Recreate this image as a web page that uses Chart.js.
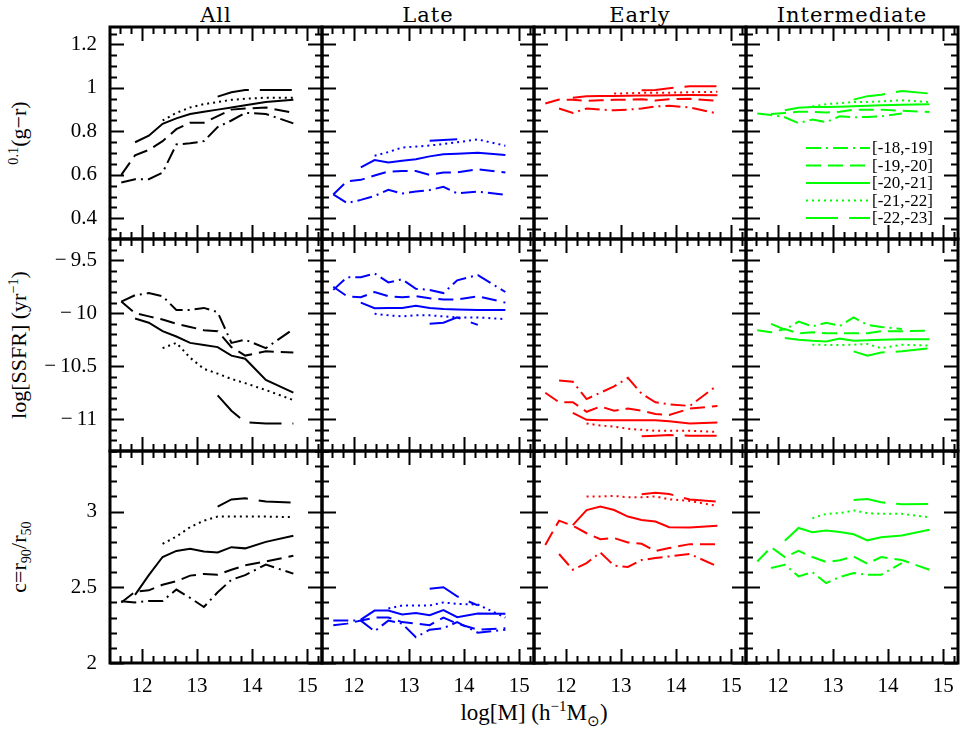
<!DOCTYPE html>
<html><head><meta charset="utf-8">
<script src="https://cdn.jsdelivr.net/npm/chart.js@4.4.1/dist/chart.umd.min.js"></script>
<style>
html,body{margin:0;padding:0;background:#fff;}
body{width:964px;height:732px;position:relative;overflow:hidden;}
canvas{position:absolute;}
.ct{position:absolute;top:3px;width:212px;text-align:center;font-family:"DejaVu Serif",serif;font-size:21px;line-height:24px;letter-spacing:1px;color:#000;white-space:nowrap;}
.yt{position:absolute;width:212px;height:26px;line-height:26px;text-align:center;font-family:"Liberation Serif",serif;font-size:22px;color:#000;white-space:nowrap;transform:rotate(-90deg);transform-origin:50% 50%;}
.xt{position:absolute;left:334px;width:400px;top:700px;line-height:26px;text-align:center;font-family:"Liberation Serif",serif;font-size:23px;color:#000;white-space:nowrap;}
sup,sub{font-size:65%;line-height:0;}
</style></head><body>
<div class="ct" style="left:110px">All</div>
<div class="ct" style="left:322px">Late</div>
<div class="ct" style="left:534px">Early</div>
<div class="ct" style="left:746px">Intermediate</div>
<div class="yt" style="left:-87px;top:120px"><sup>0.1</sup>(g−r)</div>
<div class="yt" style="left:-87px;top:332px">log[SSFR] (yr<sup>−1</sup>)</div>
<div class="yt" style="left:-87px;top:544px">c=r<sub>90</sub>/r<sub>50</sub></div>
<div class="xt">log[M] (h<sup>−1</sup>M<sub>⊙</sub>)</div>
<script>
// ---------- data ----------
const massBins = [11.625, 11.875, 12.125, 12.375, 12.625, 12.875, 13.125, 13.375, 13.625, 13.875, 14.25, 14.75];
const magBins = ['[-18,-19]', '[-19,-20]', '[-20,-21]', '[-21,-22]', '[-22,-23]'];
const massTicks = [12, 13, 14, 15];
const colorTicks = [0.4, 0.6, 0.8, 1, 1.2];
const ssfrTicks = [-11, -10.5, -10, -9.5];
const concTicks = [2, 2.5, 3];
const panelTitles = ['All', 'Late', 'Early', 'Intermediate'];
const _ = null;

// each panel: rows in magBins order
const colorAll = [
  [0.565, 0.58, 0.58, 0.61, 0.74, 0.745, 0.755, 0.82, 0.85, 0.885, 0.88, 0.837],
  [0.60, 0.69, 0.715, 0.755, 0.81, 0.84, 0.84, 0.87, 0.90, 0.905, 0.91, 0.885],
  [_, 0.75, 0.78, 0.835, 0.86, 0.88, 0.89, 0.90, 0.91, 0.92, 0.935, 0.945],
  [_, _, _, 0.85, 0.885, 0.91, 0.925, 0.935, 0.945, 0.95, 0.955, 0.955],
  [_, _, _, _, _, _, _, 0.96, 0.98, 0.99, 0.99, 0.99]];
const colorLate = [
  [0.51, 0.47, 0.485, 0.503, 0.531, 0.514, 0.523, 0.53, 0.545, 0.515, 0.523, 0.508],
  [0.51, 0.571, 0.577, 0.597, 0.615, 0.618, 0.618, 0.60, 0.611, 0.611, 0.626, 0.611],
  [_, _, 0.634, 0.668, 0.657, 0.665, 0.672, 0.685, 0.695, 0.697, 0.702, 0.691],
  [_, _, _, 0.688, 0.705, 0.726, 0.73, 0.735, 0.742, 0.75, 0.763, 0.734],
  [_, _, _, _, _, _, _, 0.757, 0.76, 0.764, _, _]];
const colorEarly = [
  [_, 0.905, 0.885, 0.905, 0.90, 0.897, 0.90, 0.905, 0.915, 0.918, 0.91, 0.882],
  [0.928, 0.946, 0.945, 0.94, 0.943, 0.945, 0.946, 0.948, 0.942, 0.948, 0.95, 0.94],
  [_, _, 0.955, 0.962, 0.963, 0.963, 0.964, 0.965, 0.965, 0.966, 0.967, 0.966],
  [_, _, _, _, _, 0.974, 0.975, 0.977, 0.978, 0.978, 0.98, 0.982],
  [_, _, _, _, _, _, _, 0.989, 0.99, 0.998, 1.008, 1.008]];
const colorInter = [
  [0.882, 0.875, 0.865, 0.838, 0.854, 0.843, 0.869, 0.865, 0.866, 0.869, 0.882, _],
  [_, 0.88, 0.885, 0.89, 0.89, 0.887, 0.89, 0.90, 0.90, 0.90, 0.895, 0.889],
  [_, _, 0.897, 0.909, 0.912, 0.912, 0.913, 0.915, 0.918, 0.92, 0.922, 0.925],
  [_, _, _, _, 0.915, 0.925, 0.93, 0.935, 0.935, 0.938, 0.943, 0.935],
  [_, _, _, _, _, _, _, 0.946, 0.962, 0.968, 0.986, 0.974]];

const ssfrAll = [
  [-9.89, -9.83, -9.81, -9.84, -9.97, -9.97, -9.95, -9.99, -10.28, -10.25, -10.33, -10.15],
  [-9.89, -10.0, -10.03, -10.06, -10.1, -10.13, -10.16, -10.17, -10.32, -10.4, -10.36, -10.37],
  [_, -10.05, -10.09, -10.17, -10.22, -10.28, -10.3, -10.32, -10.4, -10.43, -10.63, -10.75],
  [_, _, _, -10.33, -10.28, -10.42, -10.525, -10.57, -10.62, -10.66, -10.725, -10.82],
  [_, _, _, _, _, _, _, -10.775, -10.92, -11.03, -11.04, -11.04]];
const ssfrLate = [
  [-9.78, -9.66, -9.66, -9.625, -9.71, -9.68, -9.77, -9.78, -9.81, -9.69, -9.64, -9.8],
  [-9.75, -9.84, -9.85, -9.80, -9.84, -9.85, -9.84, -9.86, -9.87, -9.87, -9.84, -9.9],
  [_, _, -9.9, -9.953, -9.95, -9.95, -9.93, -9.95, -9.96, -9.965, -9.97, -9.97],
  [_, _, _, -10.006, -10.02, -10.03, -10.02, -10.02, -10.03, -10.04, -10.04, -10.056],
  [_, _, _, _, _, _, _, -10.1, -10.09, -10.04, -10.11, _]];
const ssfrEarly = [
  [_, -10.634, -10.647, -10.81, -10.75, -10.69, -10.61, -10.76, -10.84, -10.86, -10.875, -10.68],
  [-10.75, -10.84, -10.84, -10.93, -10.88, -10.92, -10.9, -10.92, -10.95, -10.96, -10.9, -10.875],
  [_, _, -10.94, -11.006, -11.01, -11.01, -11.01, -11.01, -11.01, -11.02, -11.04, -11.03],
  [_, _, _, -11.04, -11.06, -11.07, -11.09, -11.1, -11.11, -11.11, -11.11, -11.12],
  [_, _, _, _, _, _, _, -11.16, -11.155, -11.15, -11.156, -11.156]];
const ssfrInter = [
  [_, -10.1, -10.156, -10.08, -10.125, -10.09, -10.12, -10.04, -10.11, -10.13, -10.15, _],
  [-10.16, -10.18, -10.15, -10.19, -10.18, -10.19, -10.19, -10.19, -10.19, -10.17, -10.17, -10.166],
  [_, _, -10.234, -10.25, -10.26, -10.266, -10.24, -10.26, -10.255, -10.25, -10.245, -10.245],
  [_, _, _, _, -10.297, -10.3, -10.3, -10.297, -10.29, -10.33, -10.297, -10.306],
  [_, _, _, _, _, _, _, -10.36, -10.4, -10.37, -10.36, -10.33]];

const concAll = [
  [2.408, 2.40, 2.41, 2.41, 2.485, 2.43, 2.37, 2.467, 2.55, 2.58, 2.65, 2.59],
  [2.40, 2.47, 2.48, 2.517, 2.54, 2.577, 2.588, 2.583, 2.616, 2.645, 2.67, 2.708],
  [_, 2.45, 2.58, 2.70, 2.74, 2.755, 2.737, 2.73, 2.765, 2.757, 2.80, 2.84],
  [_, _, _, 2.787, 2.835, 2.897, 2.94, 2.967, 2.967, 2.967, 2.967, 2.963],
  [_, _, _, _, _, _, _, 3.033, 3.08, 3.088, 3.066, 3.059]];
const concLate = [
  [2.28, 2.28, 2.28, 2.21, 2.28, 2.26, 2.17, 2.22, 2.23, 2.27, 2.20, 2.22],
  [2.25, 2.26, 2.28, 2.30, 2.30, 2.27, 2.26, 2.25, 2.30, 2.26, 2.22, 2.23],
  [_, _, 2.287, 2.346, 2.346, 2.32, 2.33, 2.316, 2.35, 2.303, 2.327, 2.325],
  [_, _, _, _, 2.36, 2.38, 2.38, 2.38, 2.40, 2.39, 2.386, 2.30],
  [_, _, _, _, _, _, _, 2.49, 2.50, 2.44, 2.38, _]];
const concEarly = [
  [_, 2.72, 2.616, 2.66, 2.73, 2.643, 2.634, 2.68, 2.693, 2.704, 2.72, 2.638],
  [2.78, 2.94, 2.906, 2.857, 2.818, 2.825, 2.796, 2.787, 2.74, 2.759, 2.785, 2.785],
  [_, _, 2.91, 3.01, 3.033, 3.01, 2.967, 2.945, 2.934, 2.897, 2.895, 2.906],
  [_, _, _, 3.099, 3.10, 3.103, 3.095, 3.094, 3.10, 3.081, 3.07, 3.037],
  [_, _, _, _, _, _, _, 3.114, 3.125, 3.116, 3.08, 3.066]];
const concInter = [
  [_, 2.627, 2.649, 2.572, 2.60, 2.528, 2.568, 2.594, 2.583, 2.583, 2.66, _],
  [2.67, 2.765, 2.70, 2.74, 2.70, 2.667, 2.678, 2.704, 2.656, 2.70, 2.68, 2.616],
  [_, _, 2.807, 2.892, 2.864, 2.875, 2.865, 2.85, 2.81, 2.83, 2.842, 2.88],
  [_, _, _, _, 2.956, 2.985, 2.99, 3.007, 2.99, 2.985, 2.985, 2.963],
  [_, _, _, _, _, _, _, 3.077, 3.083, 3.061, 3.048, 3.05]];

// ---------- layout & style ----------
const COL0 = 110, ROW0 = 27, CELL = 212, PAD = 14, YAXIS_W = 110, XAXIS_H = 40;
const X_MIN = 11.42, X_MAX = 15.27;
const panelColors = ['#000000', '#0000ff', '#ff0000', '#00ff00'];
const lineDashes = [[15, 5, 2, 5], [15, 7], [], [2, 4], [32, 11]];
const rows = [
  {min: 0.305, max: 1.28, ticks: colorTicks, minor: 0.05, major: 0.2, sets: [colorAll, colorLate, colorEarly, colorInter]},
  {min: -11.3, max: -9.3, ticks: ssfrTicks, minor: 0.1, major: 0.5, sets: [ssfrAll, ssfrLate, ssfrEarly, ssfrInter]},
  {min: 2, max: 3.4, ticks: concTicks, minor: 0.1, major: 0.5, sets: [concAll, concLate, concEarly, concInter]}
];
const LABEL_FONT = {family: '"Liberation Serif", serif', size: 21};
const fmt = v => v < 0 ? '\u2212\u2009' + Math.abs(v) : String(v);

function tickList(min, max, step, major) {
  const out = [];
  for (let k = Math.ceil(min / step - 1e-6); k * step <= max + 1e-9; k++) {
    const v = k * step;
    const isMajor = Math.abs(v / major - Math.round(v / major)) < 1e-6;
    out.push({v, isMajor});
  }
  return out;
}

function framePlugin(row) {
  return {
    id: 'frame',
    afterDatasetsDraw(chart) {
      const {ctx, chartArea: a, scales: {x, y}} = chart;
      ctx.save();
      ctx.strokeStyle = '#000';
      ctx.lineWidth = 2;
      ctx.setLineDash([]);
      ctx.beginPath();
      tickList(X_MIN, X_MAX, 0.2, 1).forEach(t => {
        const px = Math.round(x.getPixelForValue(t.v)) + 0.5;
        const len = t.isMajor ? 14 : 7;
        ctx.moveTo(px, a.bottom); ctx.lineTo(px, a.bottom - len);
        ctx.moveTo(px, a.top); ctx.lineTo(px, a.top + len);
      });
      tickList(row.min, row.max, row.minor, row.major).forEach(t => {
        const py = Math.round(y.getPixelForValue(t.v)) + 0.5;
        const len = t.isMajor ? 14 : 7;
        ctx.moveTo(a.left, py); ctx.lineTo(a.left + len, py);
        ctx.moveTo(a.right, py); ctx.lineTo(a.right - len, py);
      });
      ctx.stroke();
      ctx.lineWidth = 3;
      ctx.strokeRect(a.left, a.top, a.right - a.left, a.bottom - a.top);
      ctx.restore();
    }
  };
}

const legendPlugin = {
  id: 'magLegend',
  afterDatasetsDraw(chart) {
    const {ctx, chartArea: a} = chart;
    chart.data.datasets.forEach((ds, i) => {
      const yy = a.top + 121 + i * 17.5;
      ctx.save();
      ctx.strokeStyle = ds.borderColor;
      ctx.lineWidth = 2;
      ctx.setLineDash(ds.borderDash);
      ctx.beginPath();
      ctx.moveTo(a.left + 60, yy); ctx.lineTo(a.left + 124, yy);
      ctx.stroke();
      ctx.setLineDash([]);
      ctx.fillStyle = '#000';
      ctx.font = '17px "Liberation Serif", serif';
      ctx.textBaseline = 'middle';
      ctx.textAlign = 'left';
      ctx.fillText(ds.label, a.left + 126, yy + 1);
      ctx.restore();
    });
  }
};

rows.forEach((row, r) => {
  row.sets.forEach((set, c) => {
    const left = COL0 + c * CELL, top = ROW0 + r * CELL;
    const hasY = c === 0, hasX = r === 2;
    const cv = document.createElement('canvas');
    const cw = (hasY ? YAXIS_W : PAD) + CELL + PAD;
    const ch = PAD + CELL + PAD + (hasX ? XAXIS_H : 0);
    cv.width = cw; cv.height = ch;
    cv.style.left = (hasY ? 0 : left - PAD) + 'px';
    cv.style.top = (top - PAD) + 'px';
    cv.style.width = cw + 'px'; cv.style.height = ch + 'px';
    document.body.appendChild(cv);

    const datasets = set.map((vals, i) => ({
      label: magBins[i],
      data: massBins.map((m, j) => ({x: m, y: vals[j]})),
      borderColor: panelColors[c],
      borderWidth: 2,
      borderDash: lineDashes[i],
      pointRadius: 0,
      tension: 0,
      fill: false,
      spanGaps: false
    }));
    const plugins = [framePlugin(row)];
    if (r === 0 && c === 3) plugins.push(legendPlugin);

    new Chart(cv, {
      type: 'line',
      data: {datasets},
      plugins,
      options: {
        responsive: false, animation: false, devicePixelRatio: 1,
        layout: {padding: {left: hasY ? 0 : PAD, right: PAD, top: PAD, bottom: PAD}},
        plugins: {legend: {display: false}, tooltip: {enabled: false}, title: {display: false}},
        scales: {
          x: {
            type: 'linear', min: X_MIN, max: X_MAX, display: hasX, position: 'bottom',
            grid: {display: false, drawTicks: false}, border: {display: false},
            ticks: {color: '#000', font: LABEL_FONT, padding: 11, maxRotation: 0, autoSkip: false, callback: v => fmt(v)},
            afterBuildTicks: s => { s.ticks = massTicks.map(v => ({value: v})); },
            afterFit: s => { if (hasX) { s.height = XAXIS_H; s.paddingLeft = 0; s.paddingRight = 0; } else { s.height = 0; } }
          },
          y: {
            type: 'linear', min: row.min, max: row.max, display: hasY, position: 'left',
            grid: {display: false, drawTicks: false}, border: {display: false},
            ticks: {color: '#000', font: LABEL_FONT, padding: 13, autoSkip: false, callback: v => fmt(v)},
            afterBuildTicks: s => { s.ticks = row.ticks.map(v => ({value: v})); },
            afterFit: s => { if (hasY) { s.width = YAXIS_W; s.paddingTop = 0; s.paddingBottom = 0; } else { s.width = 0; } }
          }
        }
      }
    });
  });
});
</script>
</body></html>
